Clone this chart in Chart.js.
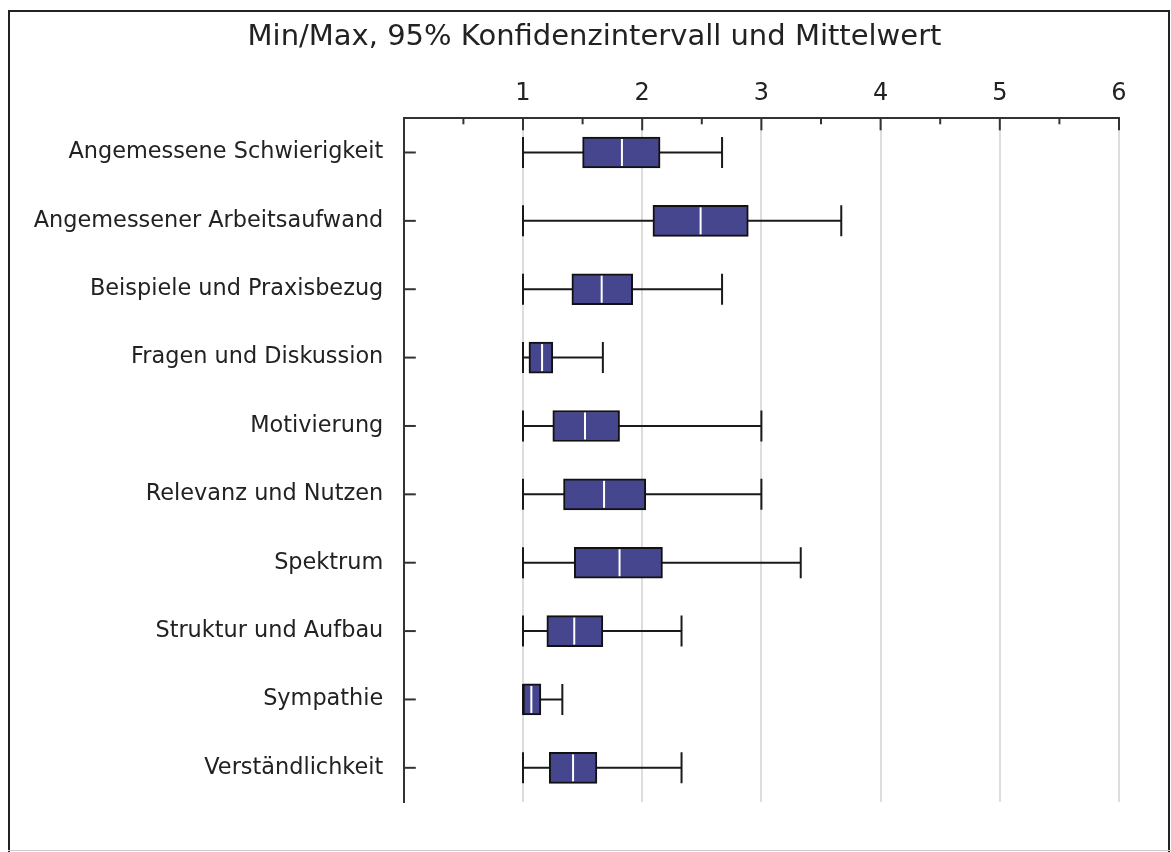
<!DOCTYPE html>
<html>
<head>
<meta charset="utf-8">
<script src="https://cdn.jsdelivr.net/npm/chart.js@4"></script>
<style>
  html, body { margin: 0; padding: 0; background: #fff; }
  #frame {
    position: absolute; left: 8px; top: 10px; width: 1162px; height: 850px;
    border: 2px solid #222; border-bottom: none; box-sizing: border-box;
  }
  #bottomLine { position: absolute; left: 8px; top: 850px; width: 1163px; height: 1px; background: #ccc; }
  #wrap { position: absolute; left: 0; top: 0; width: 1171px; height: 852px; }
</style>
</head>
<body>
<div id="frame"></div>
<div id="bottomLine"></div>
<div id="wrap"><canvas id="boxChart"></canvas></div>
<script>
const chartTitle = "Min/Max, 95% Konfidenzintervall und Mittelwert";
const categories = [
  "Angemessene Schwierigkeit",
  "Angemessener Arbeitsaufwand",
  "Beispiele und Praxisbezug",
  "Fragen und Diskussion",
  "Motivierung",
  "Relevanz und Nutzen",
  "Spektrum",
  "Struktur und Aufbau",
  "Sympathie",
  "Verständlichkeit",
];
const minValues  = [1, 1, 1, 1, 1, 1, 1, 1, 1, 1];
const maxValues  = [2.67, 3.67, 2.67, 1.67, 3, 3, 3.33, 2.33, 1.33, 2.33];
const ciLow      = [1.50, 2.09, 1.41, 1.05, 1.25, 1.34, 1.43, 1.20, 1.00, 1.22];
const ciHigh     = [2.15, 2.89, 1.92, 1.25, 1.81, 2.03, 2.17, 1.67, 1.15, 1.62];
const meanValues = [1.83, 2.49, 1.66, 1.16, 1.52, 1.68, 1.81, 1.43, 1.07, 1.42];
const tickLabels = ["1", "2", "3", "4", "5", "6"];

const BOX_H = 31;
const FONT = "'DejaVu Sans', Verdana, sans-serif";

const whiskerPlugin = {
  id: "whiskers",
  beforeDatasetsDraw(chart) {
    const { ctx, scales: { x, y } } = chart;
    ctx.save();
    ctx.strokeStyle = "#1a1a1a";
    ctx.lineWidth = 2;
    categories.forEach((c, i) => {
      const cy = y.getPixelForValue(i);
      const x0 = x.getPixelForValue(minValues[i]);
      const x1 = x.getPixelForValue(maxValues[i]);
      ctx.beginPath();
      ctx.moveTo(x0, cy);
      ctx.lineTo(x1, cy);
      ctx.moveTo(x0, cy - BOX_H / 2);
      ctx.lineTo(x0, cy + BOX_H / 2);
      ctx.moveTo(x1, cy - BOX_H / 2);
      ctx.lineTo(x1, cy + BOX_H / 2);
      ctx.stroke();
    });
    ctx.restore();
  },
  afterDatasetsDraw(chart) {
    const { ctx, scales: { x, y } } = chart;
    ctx.save();
    // mean lines
    ctx.strokeStyle = "#ffffff";
    ctx.lineWidth = 2;
    categories.forEach((c, i) => {
      const cy = y.getPixelForValue(i);
      const mx = x.getPixelForValue(meanValues[i]);
      ctx.beginPath();
      ctx.moveTo(mx, cy - BOX_H / 2 + 2);
      ctx.lineTo(mx, cy + BOX_H / 2 - 2);
      ctx.stroke();
    });
    // tick marks point into the plot
    ctx.strokeStyle = "#333";
    ctx.lineWidth = 2;
    const top = chart.chartArea.top;
    const left = chart.chartArea.left;
    for (let v = 0.5; v <= 6; v += 0.5) {
      const px = x.getPixelForValue(v);
      const len = Number.isInteger(v) ? 12 : 6;
      ctx.beginPath();
      ctx.moveTo(px, top);
      ctx.lineTo(px, top + len);
      ctx.stroke();
    }
    categories.forEach((c, i) => {
      const cy = y.getPixelForValue(i);
      ctx.beginPath();
      ctx.moveTo(left, cy);
      ctx.lineTo(left + 12, cy);
      ctx.stroke();
    });
    // title, centred on the outer frame rather than the plot
    ctx.font = "29px " + FONT;
    ctx.fillStyle = "#222";
    ctx.textAlign = "center";
    ctx.textBaseline = "middle";
    ctx.fillText(chartTitle, chart.width / 2 + 9, 37);
    ctx.restore();
  },
};

const ctx = document.getElementById("boxChart").getContext("2d");

new Chart(ctx, {
  type: "bar",
  data: {
    labels: categories,
    datasets: [
      {
        label: "95% Konfidenzintervall",
        data: ciLow.map((lo, i) => [lo, ciHigh[i]]),
        backgroundColor: "#46468f",
        borderColor: "#111",
        borderWidth: 2,
        borderSkipped: false,
        barThickness: BOX_H,
      },
    ],
  },
  options: {
    indexAxis: "y",
    responsive: true,
    maintainAspectRatio: false,
    animation: false,
    layout: { padding: { left: 0, right: 52, top: 55, bottom: 50 } },
    plugins: {
      legend: { display: false },
      tooltip: { enabled: false },
    },
    scales: {
      x: {
        type: "linear",
        position: "top",
        min: 0,
        max: 6,
        afterFit: (scale) => { scale.height = 63.3; },
        ticks: {
          stepSize: 0.5,
          padding: 10,
          color: "#222",
          font: { family: FONT, size: 24 },
          callback: (v) => (Number.isInteger(v) && v > 0 ? tickLabels[v - 1] : ""),
        },
        grid: {
          drawTicks: false,
          color: (c) => (Number.isInteger(c.tick.value) && c.tick.value > 0 ? "#dddddd" : "rgba(0,0,0,0)"),
          lineWidth: 2,
        },
        border: { display: true, color: "#333", width: 2 },
      },
      y: {
        afterFit: (scale) => { scale.width = 403.8; },
        ticks: {
          padding: 20.5,
          color: "#222",
          font: { family: FONT, size: 22.4 },
        },
        grid: { display: false, drawTicks: false },
        border: { display: true, color: "#333", width: 2 },
      },
    },
  },
  plugins: [whiskerPlugin],
});
</script>
</body>
</html>
